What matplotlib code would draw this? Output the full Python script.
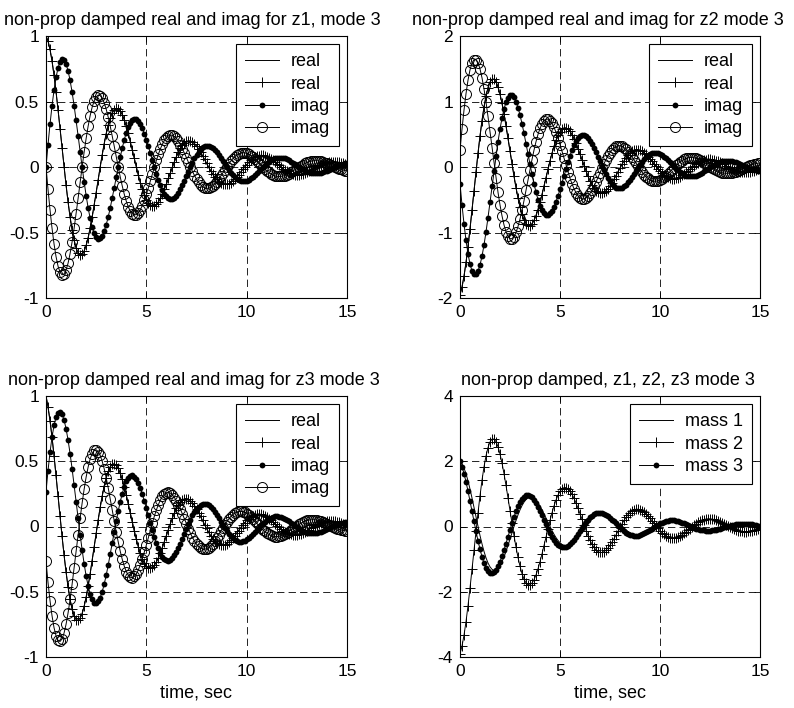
import numpy as np
import matplotlib
matplotlib.use("Agg")
import matplotlib.pyplot as plt

# time axis, 0.1 s steps
t = np.linspace(0, 15, 151)

real_z1 = [1.000, .963, .898, .809, .700, .574, .437, .292, .145, 0,
           -.139, -.267, -.382, -.480, -.559, -.618, -.656, -.672, -.667, -.642,
           -.599, -.540, -.467, -.383, -.291, -.195, -.097, 0, .092, .178,
           .255, .320, .373, .412, .437, .448, .445, .428, .400, .360,
           .311, .256, .194, .130, .065, 0, -.062, -.119, -.170, -.213,
           -.249, -.275, -.292, -.299, -.297, -.286, -.267, -.240, -.208, -.170,
           -.130, -.087, -.043, 0, .041, .079, .113, .142, .166, .183,
           .195, .199, .198, .191, .178, .160, .139, .114, .086, .058,
           .029, 0, -.027, -.053, -.076, -.095, -.111, -.122, -.130, -.133,
           -.132, -.127, -.119, -.107, -.092, -.076, -.058, -.039, -.019, 0,
           .018, .035, .050, .063, .074, .082, .087, .089, .088, .085,
           .079, .071, .062, .051, .038, .026, .013, 0, -.012, -.023,
           -.034, -.042, -.049, -.054, -.058, -.059, -.059, -.057, -.053, -.048,
           -.041, -.034, -.026, -.017, -.009, 0, .008, .016, .022, .028,
           .033, .036, .039, .039, .039, .038, .035, .032, .027, .022,
           .017]
imag_z1 = [0, .170, .327, .467, .587, .684, .757, .803, .823, .817,
           .786, .734, .661, .572, .469, .357, .239, .118, 0, -.113,
           -.218, -.312, -.392, -.457, -.505, -.535, -.549, -.545, -.525, -.489,
           -.441, -.381, -.313, -.238, -.159, -.079, 0, .076, .145, .208,
           .261, .304, .337, .357, .366, .363, .350, .326, .294, .254,
           .209, .159, .106, .053, 0, -.050, -.097, -.139, -.174, -.203,
           -.224, -.238, -.244, -.242, -.233, -.218, -.196, -.170, -.139, -.106,
           -.071, -.035, 0, .034, .065, .093, .116, .135, .150, .159,
           .163, .162, .156, .145, .131, .113, .093, .071, .047, .023,
           0, -.022, -.043, -.062, -.078, -.090, -.100, -.106, -.109, -.108,
           -.104, -.097, -.087, -.075, -.062, -.047, -.031, -.016, 0, .015,
           .029, .041, .052, .060, .067, .071, .072, .072, .069, .065,
           .058, .050, .041, .031, .021, .010, 0, -.010, -.019, -.027,
           -.035, -.040, -.044, -.047, -.048, -.048, -.046, -.043, -.039, -.034,
           -.028, -.021, -.014, -.007, 0, .007, .013, .018, .023, .027,
           .030]
imag_z1_conj = [0, -.170, -.327, -.467, -.587, -.684, -.757, -.803, -.823, -.817,
                -.786, -.734, -.661, -.572, -.469, -.357, -.239, -.118, 0, .113,
                .218, .312, .392, .457, .505, .535, .549, .545, .525, .489,
                .441, .381, .313, .238, .159, .079, 0, -.076, -.145, -.208,
                -.261, -.304, -.337, -.357, -.366, -.363, -.350, -.326, -.294, -.254,
                -.209, -.159, -.106, -.053, 0, .050, .097, .139, .174, .203,
                .224, .238, .244, .242, .233, .218, .196, .170, .139, .106,
                .071, .035, 0, -.034, -.065, -.093, -.116, -.135, -.150, -.159,
                -.163, -.162, -.156, -.145, -.131, -.113, -.093, -.071, -.047, -.023,
                0, .022, .043, .062, .078, .090, .100, .106, .109, .108,
                .104, .097, .087, .075, .062, .047, .031, .016, 0, -.015,
                -.029, -.041, -.052, -.060, -.067, -.071, -.072, -.072, -.069, -.065,
                -.058, -.050, -.041, -.031, -.021, -.010, 0, .010, .019, .027,
                .035, .040, .044, .047, .048, .048, .046, .043, .039, .034,
                .028, .021, .014, .007, 0, -.007, -.013, -.018, -.023, -.027,
                -.030]

real_z2 = [-1.949, -1.833, -1.667, -1.458, -1.214, -.944, -.657, -.364, -.072, .210,
           .472, .709, .914, 1.082, 1.210, 1.296, 1.339, 1.340, 1.300, 1.223,
           1.112, .972, .810, .630, .438, .242, .048, -.140, -.315, -.473,
           -.609, -.722, -.807, -.864, -.893, -.894, -.867, -.816, -.742, -.649,
           -.540, -.420, -.292, -.162, -.032, .093, .210, .315, .406, .481,
           .538, .576, .596, .596, .578, .544, .495, .433, .360, .280,
           .195, .108, .021, -.062, -.140, -.210, -.271, -.321, -.359, -.385,
           -.397, -.398, -.386, -.363, -.330, -.289, -.240, -.187, -.130, -.072,
           -.014, .041, .093, .140, .181, .214, .239, .256, .265, .265,
           .257, .242, .220, .192, .160, .125, .087, .048, .009, -.028,
           -.062, -.094, -.121, -.143, -.160, -.171, -.177, -.177, -.172, -.161,
           -.147, -.128, -.107, -.083, -.058, -.032, -.006, .018, .042, .062,
           .080, .095, .107, .114, .118, .118, .114, .108, .098, .086,
           .071, .055, .039, .021, .004, -.012, -.028, -.042, -.054, -.063,
           -.071, -.076, -.079, -.079, -.076, -.072, -.065, -.057, -.048, -.037,
           -.026]
imag_z2 = [-.257, -.578, -.868, -1.119, -1.325, -1.482, -1.587, -1.640, -1.641, -1.592,
           -1.497, -1.362, -1.191, -.991, -.771, -.537, -.297, -.059, .171, .386,
           .579, .746, .884, .988, 1.058, 1.094, 1.094, 1.062, .999, .908,
           .794, .661, .514, .358, .198, .039, -.114, -.257, -.386, -.498,
           -.589, -.659, -.706, -.729, -.730, -.708, -.666, -.606, -.530, -.441,
           -.343, -.239, -.132, -.026, .076, .172, .257, .332, .393, .440,
           .471, .487, .487, .472, .444, .404, .353, .294, .229, .159,
           .088, .017, -.051, -.114, -.172, -.221, -.262, -.293, -.314, -.325,
           -.325, -.315, -.296, -.269, -.236, -.196, -.153, -.106, -.059, -.012,
           .034, .076, .115, .148, .175, .195, .209, .217, .217, .210,
           .198, .180, .157, .131, .102, .071, .039, .008, -.023, -.051,
           -.076, -.098, -.117, -.130, -.140, -.144, -.144, -.140, -.132, -.120,
           -.105, -.087, -.068, -.047, -.026, -.005, .015, .034, .051, .066,
           .078, .087, .093, .096, .096, .094, .088, .080, .070, .058,
           .045, .032, .017, .003, -.010, -.023, -.034, -.044, -.052, -.058,
           -.062]
imag_z2_conj = [.257, .578, .868, 1.119, 1.325, 1.482, 1.587, 1.640, 1.641, 1.592,
                1.497, 1.362, 1.191, .991, .771, .537, .297, .059, -.171, -.386,
                -.579, -.746, -.884, -.988, -1.058, -1.094, -1.094, -1.062, -.999, -.908,
                -.794, -.661, -.514, -.358, -.198, -.039, .114, .257, .386, .498,
                .589, .659, .706, .729, .730, .708, .666, .606, .530, .441,
                .343, .239, .132, .026, -.076, -.172, -.257, -.332, -.393, -.440,
                -.471, -.487, -.487, -.472, -.444, -.404, -.353, -.294, -.229, -.159,
                -.088, -.017, .051, .114, .172, .221, .262, .293, .314, .325,
                .325, .315, .296, .269, .236, .196, .153, .106, .059, .012,
                -.034, -.076, -.115, -.148, -.175, -.195, -.209, -.217, -.217, -.210,
                -.198, -.180, -.157, -.131, -.102, -.071, -.039, -.008, .023, .051,
                .076, .098, .117, .130, .140, .144, .144, .140, .132, .120,
                .105, .087, .068, .047, .026, .005, -.015, -.034, -.051, -.066,
                -.078, -.087, -.093, -.096, -.096, -.094, -.088, -.080, -.070, -.058,
                -.045, -.032, -.017, -.003, .010, .023, .034, .044, .052, .058,
                .062]

real_z3 = [1.000, .917, .811, .684, .543, .391, .234, .077, -.075, -.219,
           -.349, -.464, -.559, -.633, -.685, -.713, -.719, -.703, -.667, -.612,
           -.541, -.456, -.362, -.261, -.156, -.051, .050, .146, .233, .309,
           .373, .422, .457, .476, .480, .469, .445, .408, .361, .304,
           .241, .174, .104, .034, -.034, -.097, -.155, -.206, -.249, -.282,
           -.305, -.317, -.320, -.313, -.297, -.272, -.240, -.203, -.161, -.116,
           -.069, -.023, .022, .065, .104, .138, .166, .188, .203, .212,
           .213, .209, .198, .182, .160, .135, .107, .077, .046, .015,
           -.015, -.043, -.069, -.092, -.111, -.125, -.135, -.141, -.142, -.139,
           -.132, -.121, -.107, -.090, -.072, -.052, -.031, -.010, .010, .029,
           .046, .061, .074, .084, .090, .094, .095, .093, .088, .081,
           .071, .060, .048, .034, .021, .007, -.007, -.019, -.031, -.041,
           -.049, -.056, -.060, -.063, -.063, -.062, -.059, -.054, -.048, -.040,
           -.032, -.023, -.014, -.005, .004, .013, .021, .027, .033, .037,
           .040, .042, .042, .041, .039, .036, .032, .027, .021, .015,
           .009]
imag_z3 = [.268, .428, .568, .684, .775, .838, .873, .881, .861, .816,
           .749, .662, .559, .443, .319, .191, .063, -.062, -.179, -.285,
           -.379, -.456, -.517, -.559, -.583, -.588, -.574, -.545, -.500, -.442,
           -.373, -.296, -.213, -.127, -.042, .041, .119, .190, .252, .304,
           .345, .373, .389, .392, .383, .363, .333, .294, .249, .197,
           .142, .085, .028, -.027, -.079, -.127, -.168, -.203, -.230, -.249,
           -.259, -.261, -.256, -.242, -.222, -.196, -.166, -.132, -.095, -.057,
           -.019, .018, .053, .085, .112, .135, .153, .166, .173, .174,
           .170, .162, .148, .131, .111, .088, .063, .038, .012, -.012,
           -.035, -.056, -.075, -.090, -.102, -.111, -.115, -.116, -.114, -.108,
           -.099, -.087, -.074, -.058, -.042, -.025, -.008, .008, .024, .038,
           .050, .060, .068, .074, .077, .078, .076, .072, .066, .058,
           .049, .039, .028, .017, .006, -.005, -.016, -.025, -.033, -.040,
           -.046, -.049, -.051, -.052, -.051, -.048, -.044, -.039, -.033, -.026,
           -.019, -.011, -.004, .004, .011, .017, .022, .027, .030, .033,
           .034]
imag_z3_conj = [-.268, -.428, -.568, -.684, -.775, -.838, -.873, -.881, -.861, -.816,
                -.749, -.662, -.559, -.443, -.319, -.191, -.063, .062, .179, .285,
                .379, .456, .517, .559, .583, .588, .574, .545, .500, .442,
                .373, .296, .213, .127, .042, -.041, -.119, -.190, -.252, -.304,
                -.345, -.373, -.389, -.392, -.383, -.363, -.333, -.294, -.249, -.197,
                -.142, -.085, -.028, .027, .079, .127, .168, .203, .230, .249,
                .259, .261, .256, .242, .222, .196, .166, .132, .095, .057,
                .019, -.018, -.053, -.085, -.112, -.135, -.153, -.166, -.173, -.174,
                -.170, -.162, -.148, -.131, -.111, -.088, -.063, -.038, -.012, .012,
                .035, .056, .075, .090, .102, .111, .115, .116, .114, .108,
                .099, .087, .074, .058, .042, .025, .008, -.008, -.024, -.038,
                -.050, -.060, -.068, -.074, -.077, -.078, -.076, -.072, -.066, -.058,
                -.049, -.039, -.028, -.017, -.006, .005, .016, .025, .033, .040,
                .046, .049, .051, .052, .051, .048, .044, .039, .033, .026,
                .019, .011, .004, -.004, -.011, -.017, -.022, -.027, -.030, -.033,
                -.034]

mass1 = [2.000, 1.926, 1.796, 1.618, 1.400, 1.148, .874, .584, .290, 0,
         -.278, -.534, -.764, -.960, -1.118, -1.236, -1.312, -1.344, -1.334, -1.284,
         -1.198, -1.080, -.934, -.766, -.582, -.390, -.194, 0, .184, .356,
         .510, .640, .746, .824, .874, .896, .890, .856, .800, .720,
         .622, .512, .388, .260, .130, 0, -.124, -.238, -.340, -.426,
         -.498, -.550, -.584, -.598, -.594, -.572, -.534, -.480, -.416, -.340,
         -.260, -.174, -.086, 0, .082, .158, .226, .284, .332, .366,
         .390, .398, .396, .382, .356, .320, .278, .228, .172, .116,
         .058, 0, -.054, -.106, -.152, -.190, -.222, -.244, -.260, -.266,
         -.264, -.254, -.238, -.214, -.184, -.152, -.116, -.078, -.038, 0,
         .036, .070, .100, .126, .148, .164, .174, .178, .176, .170,
         .158, .142, .124, .102, .076, .052, .026, 0, -.024, -.046,
         -.068, -.084, -.098, -.108, -.116, -.118, -.118, -.114, -.106, -.096,
         -.082, -.068, -.052, -.034, -.018, 0, .016, .032, .044, .056,
         .066, .072, .078, .078, .078, .076, .070, .064, .054, .044,
         .034]
mass2 = [-3.898, -3.666, -3.334, -2.916, -2.428, -1.888, -1.314, -.728, -.144, .420,
         .944, 1.418, 1.828, 2.164, 2.420, 2.592, 2.678, 2.680, 2.600, 2.446,
         2.224, 1.944, 1.620, 1.260, .876, .484, .096, -.280, -.630, -.946,
         -1.218, -1.444, -1.614, -1.728, -1.786, -1.788, -1.734, -1.632, -1.484, -1.298,
         -1.080, -.840, -.584, -.324, -.064, .186, .420, .630, .812, .962,
         1.076, 1.152, 1.192, 1.192, 1.156, 1.088, .990, .866, .720, .560,
         .390, .216, .042, -.124, -.280, -.420, -.542, -.642, -.718, -.770,
         -.794, -.796, -.772, -.726, -.660, -.578, -.480, -.374, -.260, -.144,
         -.028, .082, .186, .280, .362, .428, .478, .512, .530, .530,
         .514, .484, .440, .384, .320, .250, .174, .096, .018, -.056,
         -.124, -.188, -.242, -.286, -.320, -.342, -.354, -.354, -.344, -.322,
         -.294, -.256, -.214, -.166, -.116, -.064, -.012, .036, .084, .124,
         .160, .190, .214, .228, .236, .236, .228, .216, .196, .172,
         .142, .110, .078, .042, .008, -.024, -.056, -.084, -.108, -.126,
         -.142, -.152, -.158, -.158, -.152, -.144, -.130, -.114, -.096, -.074,
         -.052]
mass3 = [2.000, 1.834, 1.622, 1.368, 1.086, .782, .468, .154, -.150, -.438,
         -.698, -.928, -1.118, -1.266, -1.370, -1.426, -1.438, -1.406, -1.334, -1.224,
         -1.082, -.912, -.724, -.522, -.312, -.102, .100, .292, .466, .618,
         .746, .844, .914, .952, .960, .938, .890, .816, .722, .608,
         .482, .348, .208, .068, -.068, -.194, -.310, -.412, -.498, -.564,
         -.610, -.634, -.640, -.626, -.594, -.544, -.480, -.406, -.322, -.232,
         -.138, -.046, .044, .130, .208, .276, .332, .376, .406, .424,
         .426, .418, .396, .364, .320, .270, .214, .154, .092, .030,
         -.030, -.086, -.138, -.184, -.222, -.250, -.270, -.282, -.284, -.278,
         -.264, -.242, -.214, -.180, -.144, -.104, -.062, -.020, .020, .058,
         .092, .122, .148, .168, .180, .188, .190, .186, .176, .162,
         .142, .120, .096, .068, .042, .014, -.014, -.038, -.062, -.082,
         -.098, -.112, -.120, -.126, -.126, -.124, -.118, -.108, -.096, -.080,
         -.064, -.046, -.028, -.010, .008, .026, .042, .054, .066, .074,
         .080, .084, .084, .082, .078, .072, .064, .054, .042, .030,
         .018]

titles = ["non-prop damped real and imag for z1, mode 3",
          "non-prop damped real and imag for z2 mode 3",
          "non-prop damped real and imag for z3 mode 3",
          "non-prop damped, z1, z2, z3 mode 3"]
xticks = [0, 5, 10, 15]
xticklabels = ["0", "5", "10", "15"]
yticks_1 = [-1, -0.5, 0, 0.5, 1]
yticklabels_1 = ["-1", "-0.5", "0", "0.5", "1"]
yticks_2 = [-2, -1, 0, 1, 2]
yticklabels_2 = ["-2", "-1", "0", "1", "2"]
yticks_4 = [-4, -2, 0, 2, 4]
yticklabels_4 = ["-4", "-2", "0", "2", "4"]

plt.rcParams['font.family'] = ['Liberation Sans', 'DejaVu Sans']
plt.rcParams['font.size'] = 13
plt.rcParams['lines.scale_dashes'] = False

W, H = 794, 708
fig = plt.figure(figsize=(W / 100, H / 100), dpi=100)
ax1 = fig.add_axes([46 / W, 1 - 298 / H, 301 / W, 262 / H])
ax2 = fig.add_axes([460 / W, 1 - 298 / H, 300 / W, 262 / H])
ax3 = fig.add_axes([46 / W, 1 - 657 / H, 301 / W, 261 / H])
ax4 = fig.add_axes([460 / W, 1 - 657 / H, 300 / W, 261 / H])

LW = 0.7


def style(ax, title, title_x, yticks, ylabels):
    ax.set_xlim(0, 15)
    ax.set_ylim(yticks[0], yticks[-1])
    ax.set_xticks(xticks)
    ax.set_xticklabels(xticklabels)
    ax.set_yticks(yticks)
    ax.set_yticklabels(ylabels)
    ax.grid(True, color='k', linestyle=(0, (5.3, 3.0)), linewidth=0.6)
    ax.tick_params(direction='in', top=True, right=True, length=4, width=0.6,
                   pad=5, labelsize=12.5)
    for s in ax.spines.values():
        s.set_linewidth(0.8)
    # matlab nudges titles so they stay inside the figure
    ax.set_title(title, fontsize=13, pad=7.6, x=title_x)


def legend(ax):
    leg = ax.legend(loc='upper right', fancybox=False, edgecolor='k', framealpha=1,
                    borderaxespad=0.45, handlelength=1.9, labelspacing=0.3,
                    borderpad=0.5, handletextpad=0.65, numpoints=1, fontsize=13)
    leg.get_frame().set_linewidth(0.8)


def complex_panel(ax, re, im, im_c, title, title_x, yticks, ylabels):
    ax.plot(t, re, 'k-', lw=LW, label='real')
    ax.plot(t, re, 'k-', marker='+', ms=7.5, mew=0.7, lw=LW, label='real')
    ax.plot(t, im, 'k-', marker='o', ms=4.2, mfc='k', mew=0, lw=LW, label='imag')
    ax.plot(t, im_c, 'k-', marker='o', ms=7.2, mfc='none', mew=0.7, lw=LW, label='imag')
    style(ax, title, title_x, yticks, ylabels)
    legend(ax)


complex_panel(ax1, real_z1, imag_z1, imag_z1_conj, titles[0], 0.487, yticks_1, yticklabels_1)
complex_panel(ax2, real_z2, imag_z2, imag_z2_conj, titles[1], 0.458, yticks_2, yticklabels_2)
complex_panel(ax3, real_z3, imag_z3, imag_z3_conj, titles[2], 0.49, yticks_1, yticklabels_1)

ax4.plot(t, mass1, 'k-', lw=LW, label='mass 1')
ax4.plot(t, mass2, 'k-', marker='+', ms=7.5, mew=0.7, lw=LW, label='mass 2')
ax4.plot(t, mass3, 'k-', marker='o', ms=4.2, mfc='k', mew=0, lw=LW, label='mass 3')
style(ax4, titles[3], 0.492, yticks_4, yticklabels_4)
legend(ax4)

ax3.set_xlabel("time, sec", fontsize=13, labelpad=4)
ax4.set_xlabel("time, sec", fontsize=13, labelpad=4)

fig.savefig("out.png", dpi=100)
